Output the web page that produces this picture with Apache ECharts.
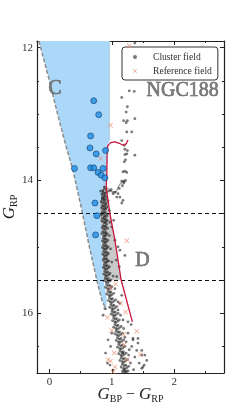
<!DOCTYPE html>
<html><head><meta charset="utf-8">
<script src="https://cdn.jsdelivr.net/npm/echarts@6/dist/echarts.min.js"></script>
<style>html,body{margin:0;padding:0;background:#fff}#c{width:249px;height:415px}</style>
</head><body><div id="c"></div>
<script>
// ---------- axis / tick values ----------
const xTickLabels = [0, 1, 2];
const xMinorTicks = [0.5, 1.5, 2.5];
const yTickLabels = [12, 14, 16];
const yMinorTicks = [12.5, 13, 13.5, 14.5, 15, 15.5, 16.5];
const xRange = [-0.2, 2.8];
const yRange = [11.9, 16.9];
const cutLines = [14.5, 15.5];

// ---------- regions and curves (colour, magnitude) ----------
const regionC = [[-0.17,11.9],[0.0,12.5],[0.13,13.0],[0.27,13.5],[0.37,13.82],[0.52,14.45],[0.64,15.0],[0.76,15.5],[0.84,15.8],[0.91,15.95],
  [0.92,15.8],[0.87,15.5],[0.84,15.0],[0.82,14.5],[0.83,14.25],[0.87,14.1],[0.92,14.05],[0.925,13.6],[0.935,13.47],[0.965,13.4],[0.965,11.9]];
const regionCEdge = [[-0.17,11.9],[0.0,12.5],[0.13,13.0],[0.27,13.5],[0.37,13.82],[0.52,14.45],[0.64,15.0],[0.76,15.5],[0.84,15.8],[0.91,15.95]];
const regionCRight = [[0.965,11.9],[0.965,13.4]];
const regionD = [[0.87,14.1],[0.91,14.08],[0.97,14.5],[1.05,14.9],[1.15,15.5],[0.87,15.5],[0.84,15.0],[0.82,14.5],[0.83,14.25]];
const redIso = [[1.26,13.39],[1.23,13.45],[1.18,13.47],[1.12,13.44],[1.05,13.42],[0.98,13.43],[0.935,13.48],[0.925,13.6],[0.92,13.9],[0.91,14.1],[0.97,14.5],[1.05,14.9],[1.15,15.5],[1.25,15.85],[1.33,16.13]];
const grayIso = [[0.83,14.6],[0.83,14.35],[0.85,14.17],[0.88,14.09],[0.91,14.09],[0.95,14.13],[1.0,14.17],[1.07,14.17],[1.12,14.07],[1.16,14.02],[1.2,14.0]];

// ---------- stars ----------
const blueStars = [[0.71,12.80],[0.79,13.01],[0.66,13.33],[0.65,13.51],[0.75,13.6],[0.90,13.55],[0.40,13.82],[0.66,13.81],[0.71,13.81],[0.86,13.82],[0.78,13.88],[0.83,13.92],[0.89,13.96],[0.73,14.34],[0.76,14.53],[0.74,14.82]];

const clusterGiants = [[1.37,11.93],[1.28,12.65],[1.36,12.66],[1.16,12.75],[1.25,12.89],[1.23,12.97],[1.37,13.07],[1.19,13.10],[1.25,13.10],[1.23,13.13],[1.24,13.27],[1.32,13.27],[1.16,13.40],[1.20,13.47],[1.21,13.53],[1.25,13.55],[1.24,13.60],[1.21,13.61],[1.37,13.62],[1.22,13.69],[1.20,13.72],[1.18,13.87],[1.21,13.86],[1.24,13.88],[1.16,14.01],[1.20,14.02],[1.22,14.0]];
const clusterTurnoff = [[0.99,14.14],[1.05,14.18],[1.10,14.20],[1.13,14.25],[1.18,14.30],[1.16,14.34],[1.08,14.25],[1.12,14.12],[1.17,14.08],[1.19,14.04],[1.02,14.2],[0.96,14.16],[0.88,14.1],[0.9,14.13],[0.86,14.15],[0.82,14.16],[0.92,14.17]];
const clusterMS = [
[0.84,14.21],[0.86,14.18],[0.87,14.24],[0.88,14.2],[0.89,14.23],[0.9,14.19],[0.85,14.26],[0.92,14.25],
[0.83,14.32],[0.85,14.28],[0.86,14.34],[0.87,14.3],[0.88,14.27],[0.89,14.33],[0.9,14.29],[0.91,14.35],[0.94,14.31],
[0.84,14.41],[0.855,14.38],[0.865,14.44],[0.875,14.39],[0.885,14.42],[0.895,14.37],[0.905,14.43],[0.92,14.4],[0.96,14.45],
[0.835,14.52],[0.85,14.48],[0.865,14.5],[0.875,14.55],[0.885,14.47],[0.89,14.53],[0.9,14.49],[0.915,14.54],[0.93,14.51],
[0.84,14.61],[0.855,14.57],[0.87,14.63],[0.88,14.59],[0.89,14.64],[0.9,14.58],[0.91,14.62],[0.925,14.6],[0.97,14.63],
[0.845,14.71],[0.86,14.68],[0.87,14.73],[0.885,14.69],[0.895,14.74],[0.905,14.7],[0.915,14.66],[0.93,14.72],
[0.84,14.8],[0.855,14.77],[0.87,14.83],[0.88,14.79],[0.89,14.84],[0.9,14.78],[0.91,14.82],[0.925,14.8],[0.96,14.83],
[0.85,14.91],[0.865,14.87],[0.875,14.93],[0.885,14.89],[0.895,14.94],[0.905,14.88],[0.915,14.92],[0.935,14.9],
[0.85,15.01],[0.865,14.97],[0.875,15.03],[0.89,14.99],[0.9,15.04],[0.91,14.98],[0.92,15.02],[0.94,15.0],[0.98,15.03],
[0.855,15.11],[0.87,15.07],[0.88,15.13],[0.895,15.09],[0.905,15.14],[0.915,15.08],[0.925,15.12],[0.945,15.1],
[0.86,15.2],[0.875,15.17],[0.885,15.23],[0.9,15.19],[0.91,15.24],[0.92,15.18],[0.93,15.22],[0.95,15.21],[1.0,15.23],
[0.865,15.31],[0.88,15.27],[0.89,15.33],[0.905,15.29],[0.915,15.34],[0.925,15.28],[0.94,15.32],[0.96,15.3],
[0.87,15.41],[0.885,15.37],[0.9,15.43],[0.91,15.39],[0.92,15.44],[0.935,15.38],[0.95,15.42],[0.97,15.4],[1.02,15.44],
[0.88,15.51],[0.895,15.47],[0.91,15.53],[0.92,15.49],[0.935,15.54],[0.945,15.48],[0.96,15.52],[0.985,15.5],
[0.9,15.61],[0.915,15.57],[0.93,15.63],[0.945,15.59],[0.955,15.64],[0.965,15.58],[0.98,15.62],[1.0,15.6],[1.05,15.63],
[0.92,15.71],[0.94,15.67],[0.955,15.73],[0.965,15.69],[0.975,15.74],[0.985,15.68],[1.0,15.72],[1.03,15.7],
[0.945,15.81],[0.96,15.77],[0.975,15.83],[0.99,15.79],[1.0,15.84],[1.01,15.78],[1.03,15.82],[1.06,15.8],[1.1,15.83],
[0.965,15.91],[0.985,15.87],[1.0,15.93],[1.01,15.89],[1.02,15.94],[1.035,15.88],[1.05,15.92],[1.08,15.9],
[0.99,16.01],[1.005,15.97],[1.02,16.03],[1.03,15.99],[1.045,16.04],[1.055,15.98],[1.07,16.02],[1.1,16.0],[1.14,16.03],
[1.01,16.11],[1.03,16.07],[1.045,16.13],[1.055,16.09],[1.065,16.14],[1.08,16.08],[1.095,16.12],[1.12,16.1],
[1.03,16.21],[1.05,16.17],[1.065,16.23],[1.08,16.19],[1.09,16.24],[1.1,16.18],[1.12,16.22],[1.15,16.2],[1.19,16.23],
[1.05,16.31],[1.07,16.27],[1.085,16.33],[1.1,16.29],[1.11,16.34],[1.125,16.28],[1.14,16.32],[1.17,16.3],
[1.07,16.41],[1.09,16.37],[1.105,16.43],[1.12,16.39],[1.13,16.44],[1.145,16.38],[1.16,16.42],[1.19,16.4],[1.23,16.43],
[1.09,16.51],[1.11,16.47],[1.125,16.53],[1.14,16.49],[1.15,16.54],[1.165,16.48],[1.18,16.52],[1.21,16.5],
[1.11,16.61],[1.13,16.57],[1.145,16.63],[1.16,16.59],[1.17,16.64],[1.185,16.58],[1.2,16.62],[1.23,16.6],[1.27,16.63],
[1.13,16.71],[1.15,16.67],[1.165,16.73],[1.18,16.69],[1.19,16.74],[1.205,16.68],[1.22,16.72],[1.25,16.7],
[1.15,16.81],[1.17,16.77],[1.185,16.83],[1.2,16.79],[1.21,16.84],[1.225,16.78],[1.24,16.82],[1.27,16.8],
[1.17,16.88],[1.19,16.86],[1.205,16.89],[1.22,16.87],[1.235,16.885],[1.26,16.87]];
const clusterScatter = [[1.10,15.0],[1.13,15.05],[1.05,14.9],[1.21,15.13],[1.07,15.2],[1.12,15.3],[1.0,14.7],[1.03,14.6],[1.08,15.45],[1.16,15.73],[1.13,15.85],[1.10,15.95],[1.18,16.1],[1.26,16.13],[1.31,16.17],[1.26,16.3],[1.21,16.36],[1.34,16.38],[1.42,16.38],[1.34,16.4],[1.42,16.45],[1.32,16.5],[1.40,16.56],[1.48,16.56],[1.18,16.6],[1.48,16.63],[1.53,16.63],[1.37,16.66],[1.56,16.71],[1.52,16.78],[1.5,16.81],[1.48,16.83],[1.3,16.75],[1.35,16.85],[0.89,15.93],[0.86,16.03],[0.94,16.4],[0.98,16.5],[0.97,16.78],[1.02,16.86],[0.9,16.6],[0.93,16.75],[1.0,16.3],[1.28,16.55],[1.44,16.75]];
const referenceStars = [[1.28,11.97],[0.98,13.17],[0.82,13.67],[1.24,14.91],[1.06,15.56],[0.98,15.62],[1.14,15.85],[1.22,15.98],[0.93,16.06],[1.0,16.26],[1.40,16.27],[1.19,16.32],[1.20,16.47],[1.04,16.6],[1.46,16.62],[0.94,16.7],[0.98,16.72],[1.25,16.7],[1.05,16.81],[1.02,16.88]];

const clusterAll = clusterGiants.concat(clusterTurnoff, clusterMS, clusterScatter);

// ---------- styling ----------
const SERIF = '"Liberation Serif","DejaVu Serif",serif';
const AXIS_C = '#222';
const XPATH = 'path://M1,0L5,4L9,0L10,1L6,5L10,9L9,10L5,6L1,10L0,9L4,5L0,1Z';

function mkX(pos, ticks, len, showLine, labels, extra) {
  return Object.assign({
    type: 'value', position: pos, min: xRange[0], max: xRange[1],
    axisLine: {show: showLine, onZero: false, lineStyle: {color: AXIS_C, width: 1.2}},
    axisTick: {show: true, inside: true, length: len, customValues: ticks, lineStyle: {color: AXIS_C, width: 1}},
    axisLabel: labels ? {show: true, customValues: labels, margin: 4, fontFamily: SERIF, fontSize: 11, color: '#333'} : {show: false},
    splitLine: {show: false}
  }, extra || {});
}
function mkY(pos, ticks, len, showLine, labels, extra) {
  return Object.assign({
    type: 'value', position: pos, inverse: true, min: yRange[0], max: yRange[1],
    axisLine: {show: showLine, onZero: false, lineStyle: {color: AXIS_C, width: 1.2}},
    axisTick: {show: true, inside: true, length: len, customValues: ticks, lineStyle: {color: AXIS_C, width: 1}},
    axisLabel: labels ? {show: true, customValues: labels, margin: 4, fontFamily: SERIF, fontSize: 11, color: '#333'} : {show: false},
    splitLine: {show: false}
  }, extra || {});
}

function polySeries(pts, fill, z) {
  return {
    type: 'custom', coordinateSystem: 'cartesian2d', xAxisIndex: 0, yAxisIndex: 0,
    data: [[0, 14]], silent: true, z: z, clip: true,
    renderItem: function (params, api) {
      return {type: 'polygon', shape: {points: pts.map(p => api.coord(p))}, style: {fill: fill}};
    }
  };
}
function lineSeries(pts, color, width, type, z) {
  return {type: 'line', data: pts, showSymbol: false, symbol: 'none', silent: true, z: z,
    lineStyle: {color: color, width: width, type: type}, animation: false};
}

const chart = echarts.init(document.getElementById('c'), null, {renderer: 'canvas'});
chart.setOption({
  animation: false,
  grid: {left: 37, right: 25, top: 41, bottom: 42, containLabel: false, outerBoundsMode: 'none'},
  xAxis: [
    mkX('bottom', xTickLabels, 4, true, xTickLabels, {
      name: '{i|G}{s|BP}{n| − }{i|G}{s|RP}', nameLocation: 'middle', nameGap: 12, nameMoveOverlap: false,
      nameTextStyle: {rich: {
        i: {fontFamily: SERIF, fontStyle: 'italic', fontSize: 17, color: '#222', lineHeight: 20, verticalAlign: 'middle'},
        s: {fontFamily: SERIF, fontSize: 10, color: '#222', lineHeight: 20, verticalAlign: 'bottom', padding: [0, 0, 1, 0]},
        n: {fontFamily: SERIF, fontSize: 16, color: '#222', lineHeight: 20, verticalAlign: 'middle'}
      }}
    }),
    mkX('bottom', xMinorTicks, 2, false, null),
    mkX('top', xTickLabels, 4, true, null),
    mkX('top', xMinorTicks, 2, false, null)
  ],
  yAxis: [
    mkY('left', yTickLabels, 4, true, yTickLabels, {
      name: '{i|G}{s|RP}', nameLocation: 'middle', nameGap: 17, nameRotate: 90, nameMoveOverlap: false,
      nameTextStyle: {rich: {
        i: {fontFamily: SERIF, fontStyle: 'italic', fontSize: 17, color: '#222', lineHeight: 20, verticalAlign: 'middle'},
        s: {fontFamily: SERIF, fontSize: 10, color: '#222', lineHeight: 20, verticalAlign: 'bottom', padding: [0, 0, 1, 0]}
      }}
    }),
    mkY('left', yMinorTicks, 2, false, null),
    mkY('right', yTickLabels, 4, true, null),
    mkY('right', yMinorTicks, 2, false, null)
  ],
  legend: {
    orient: 'vertical', left: 122, top: 47, padding: [5, 6, 4, 11], itemGap: 4,
    itemWidth: 4, itemHeight: 4, backgroundColor: '#fff', borderColor: '#333', borderWidth: 1, borderRadius: 3,
    textStyle: {fontFamily: SERIF, fontSize: 9.6, color: '#333', padding: [0, 0, 0, 11]},
    data: [{name: 'Cluster field', icon: 'circle'}, {name: 'Reference field', icon: XPATH}]
  },
  graphic: [
    {type: 'text', left: 48, top: 78, z: 50, style: {text: 'C', font: '20px ' + SERIF, fill: '#7a7a7a', stroke: '#3a3a3a', lineWidth: 0.5}},
    {type: 'text', left: 135, top: 250, z: 50, style: {text: 'D', font: '20px ' + SERIF, fill: '#7a7a7a', stroke: '#3a3a3a', lineWidth: 0.5}},
    {type: 'text', right: 30, top: 80, z: 50, style: {text: 'NGC188', font: '20px ' + SERIF, fill: '#7a7a7a', stroke: '#3a3a3a', lineWidth: 0.5}}
  ],
  series: [
    polySeries(regionC, '#abd7f8', 1),
    polySeries(regionD, '#c9c9c9', 2),
    lineSeries(regionCEdge, '#8c8c8c', 1.5, [4, 2], 3),
    lineSeries(regionCRight, '#b8c8d4', 0.8, 'solid', 3),
    lineSeries(grayIso, '#9a9a9a', 1.3, 'solid', 4),
    Object.assign(lineSeries(redIso, '#c8163e', 1.3, 'solid', 6), {
      markLine: {silent: true, symbol: 'none', label: {show: false}, animation: false,
        lineStyle: {color: '#111', width: 1, type: [4, 3]},
        data: cutLines.map(v => ({yAxis: v}))}
    }),
    {name: 'Cluster field', type: 'scatter', data: clusterAll, symbol: 'circle', symbolSize: 2.8, z: 5,
      itemStyle: {color: 'rgba(20,20,20,0.72)'}, silent: true},
    {name: 'Reference field', type: 'scatter', data: referenceStars, symbol: XPATH, symbolSize: 5, z: 7,
      itemStyle: {color: '#e58a6a'}, silent: true},
    {name: 'Blue', type: 'scatter', data: blueStars, symbol: 'circle', symbolSize: 6, z: 8,
      itemStyle: {color: '#1e8fe6', borderColor: '#17406e', borderWidth: 0.8}, silent: true}
  ]
});
</script>
</body></html>
